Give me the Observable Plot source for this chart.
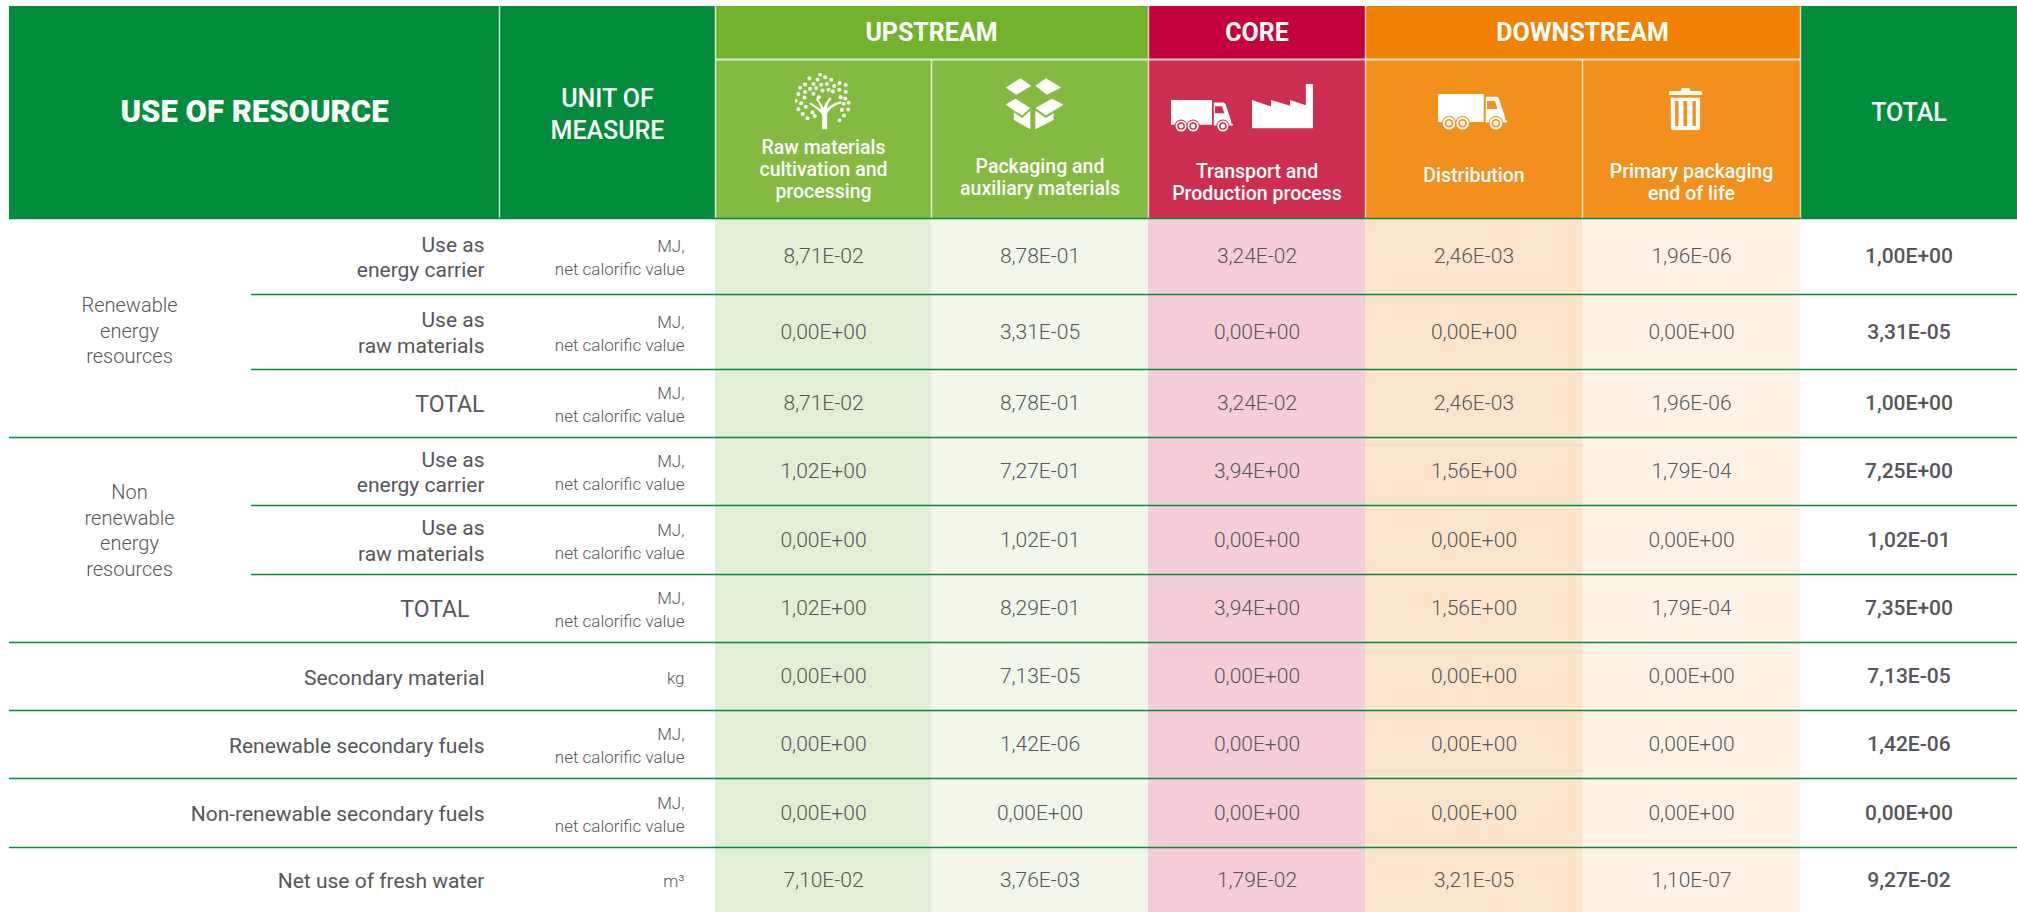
<!doctype html><html><head><meta charset="utf-8">
<style>html,body{margin:0;padding:0;background:#fff}svg{display:block}</style>
<script src="https://cdn.jsdelivr.net/npm/d3@7"></script>
<script src="https://cdn.jsdelivr.net/npm/@observablehq/plot@0.6"></script>
</head><body><script>
const stages = ["UPSTREAM","CORE","DOWNSTREAM"];
const phases = ["Raw materials\ncultivation and\nprocessing","Packaging and\nauxiliary materials","Transport and\nProduction process","Distribution","Primary packaging\nend of life"];
const groups = ["Renewable\nenergy\nresources","Non\nrenewable\nenergy\nresources"];
const rowLabels = ["Use as\nenergy carrier","Use as\nraw materials","TOTAL","Use as\nenergy carrier","Use as\nraw materials","TOTAL","Secondary material","Renewable secondary fuels","Non-renewable secondary fuels","Net use of fresh water"];
const MJ = "MJ,\nnet calorific value";
const units = [MJ,MJ,MJ,MJ,MJ,MJ,"kg",MJ,MJ,"m³"];
const rawMaterials = ["8,71E-02","0,00E+00","8,71E-02","1,02E+00","0,00E+00","1,02E+00","0,00E+00","0,00E+00","0,00E+00","7,10E-02"];
const packaging = ["8,78E-01","3,31E-05","8,78E-01","7,27E-01","1,02E-01","8,29E-01","7,13E-05","1,42E-06","0,00E+00","3,76E-03"];
const production = ["3,24E-02","0,00E+00","3,24E-02","3,94E+00","0,00E+00","3,94E+00","0,00E+00","0,00E+00","0,00E+00","1,79E-02"];
const distribution = ["2,46E-03","0,00E+00","2,46E-03","1,56E+00","0,00E+00","1,56E+00","0,00E+00","0,00E+00","0,00E+00","3,21E-05"];
const endOfLife = ["1,96E-06","0,00E+00","1,96E-06","1,79E-04","0,00E+00","1,79E-04","0,00E+00","0,00E+00","0,00E+00","1,10E-07"];
const totals = ["1,00E+00","3,31E-05","1,00E+00","7,25E+00","1,02E-01","7,35E+00","7,13E-05","1,42E-06","0,00E+00","9,27E-02"];
const series = [rawMaterials,packaging,production,distribution,endOfLife];

// layout grid: column / row index to position
const colEdges = [9,251,499,715,931,1148,1365,1582,1800,2017];
const rowEdges = [6,59,218,294,369,437,505,574,642,710,778,847,912];
const X = d3.scaleLinear(d3.range(10),colEdges), Y = d3.scaleLinear(d3.range(13),rowEdges);
const FONT = "Roboto, sans-serif";
const G="#038c3b", TXT="#55565a";
const tints=["#e2eed5","#f1f6e9","#f4cdd9","#fde5cd","#fef2e6"];

const svg=(w,h,body)=>"data:image/svg+xml,"+encodeURIComponent(`<svg xmlns="http://www.w3.org/2000/svg" viewBox="0 0 ${w} ${h}" fill="#fff">${body}</svg>`);
const treeDots=[[180,45],[195,53],[148,56],[172,60],[213,60],[238,70],[256,76],[135,74],[160,73],[183,75],[200,73],[120,84],[150,87],[168,85],[187,92],[205,90],[222,78],[237,90],[256,96],[135,97],[115,103],[160,102],[218,95],[241,112],[255,116],[107,123],[133,113],[176,112],[123,130],[265,129],[250,132],[137,141],[115,148],[245,150],[264,149],[128,162],[157,157],[251,167],[142,175],[164,168],[238,181]];
const tree=svg(170,170,treeDots.map(([x,y])=>`<circle cx="${x-105}" cy="${y-40}" r="6"/>`).join("")+
 `<path d="M81 168V128C80 118 66 108 42 92L46 88C60 96 72 104 78 110C76 98 70 88 62 78L67 75C74 84 80 94 85 104C90 90 96 82 104 72L109 76C100 88 96 96 95 106C106 94 120 88 136 84L138 90C122 96 108 102 100 114C96 120 96 124 96 128V168Z"/>`);
const box=svg(175,160,`<path d="M0 30L45 2L78 25L33 52Z"/><path d="M90 25L122 2L168 30L125 52Z"/><path d="M0 82L30 64L75 92L50 115Z"/><path d="M90 92L140 64L175 82L122 115L90 92Z"/><path d="M25 106L50 122L75 100V156L25 128Z"/><path d="M90 100L122 122L145 108V128L90 156Z"/>`);
const truckSvg=bg=>svg(212,112,`<path d="M5 0H135Q140 0 140 5V86H0V5Q0 0 5 0Z"/><path fill-rule="evenodd" d="M146 10H178Q184 10 186 16L204 70L206 82H211V88H146ZM150 23V47H182L174 23Z"/>`+
 [35,76,177].map(c=>`<circle cx="${c}" cy="90" r="22" fill="${bg}"/><circle cx="${c}" cy="90" r="19"/><circle cx="${c}" cy="90" r="13" fill="${bg}"/><circle cx="${c}" cy="90" r="8"/>`).join(""));
const factory=svg(186,137,`<path d="M0 50L58 70V50L116 68V50L164 66V0H186V137H0Z"/>`);
const trash=svg(102,128,`<path d="M38 5Q38 0 50 0Q64 0 64 5V10H95Q102 11 102 17V22H0V17Q0 11 7 10H38Z"/><path fill-rule="evenodd" d="M7 30H95V118Q95 128 85 128H17Q7 128 7 118ZM20 40V115H30V40ZM45 40V115H56V40ZM72 40V115H82V40Z"/>`);
const icons=[[tree,823,101,57,57],[box,1034,103.5,58,53],[truckSvg("#cd2e4f"),1201.5,115.5,63,33],[factory,1282,105.5,62,45],[truckSvg("#f3901d"),1472,111.5,70,37],[trash,1685,108.5,34,43]];

const R=(a,f)=>Plot.rect(a,{x1:d=>X(d[0]),x2:d=>X(d[1]),y1:d=>Y(d[2]),y2:d=>Y(d[3]),fill:d=>d[4],...f});
const tx=(data,o)=>Plot.text(data,{fontFamily:FONT,fill:TXT,lineAnchor:"middle",...o});
const chart=Plot.plot({width:2017,height:912,margin:0,
 x:{domain:[0,2017],range:[0,2017],axis:null},
 y:{domain:[0,912],range:[0,912],axis:null},
 marks:[
  R([[3,4,2,12,tints[0]],[4,5,2,12,tints[1]],[5,6,2,12,tints[2]],[6,7,2,12,tints[3]],[7,8,2,12,tints[4]]]),
  R([[0,3,0,2,G],[8,9,0,2,G],[3,4,1,2,"#85ba42"],[4,5,1,2,"#85ba42"],[5,6,1,2,"#cd2e4f"],[6,7,1,2,"#f3901d"],[7,8,1,2,"#f3901d"]]),
  R([[3,5,0,1,"#72b22d"],[5,6,0,1,"#c4033c"],[6,8,0,1,"#f18100"]]),
  Plot.ruleX([2,3,5,6,8],{x:d=>X(d),y1:()=>Y(0),y2:()=>Y(2),stroke:"#fff",strokeOpacity:.75,strokeWidth:1.5}),
  Plot.ruleX([4,7],{x:d=>X(d),y1:()=>Y(1),y2:()=>Y(2),stroke:"#fff",strokeOpacity:.75,strokeWidth:1.5}),
  Plot.ruleY([1],{y:d=>Y(d),x1:()=>X(3),x2:()=>X(8),stroke:"#fff",strokeOpacity:.75,strokeWidth:2}),
  Plot.ruleY([2,5,8,9,10,11],{y:d=>Y(d),x1:()=>X(0),x2:()=>X(9),stroke:G,strokeWidth:1.3}),
  Plot.ruleY([3,4,6,7],{y:d=>Y(d),x1:()=>X(1),x2:()=>X(9),stroke:G,strokeWidth:1.3}),
  Plot.image(icons,{src:d=>d[0],x:d=>d[1],y:d=>d[2],width:d=>d[3],height:d=>d[4]}),
  tx(["USE OF RESOURCE"],{x:()=>254,y:()=>112,fill:"#fff",fontWeight:900,fontSize:31,letterSpacing:1.5}),
  tx(["UNIT OF\nMEASURE"],{x:()=>607,y:()=>112,fill:"#fff",fontWeight:500,fontSize:25,lineHeight:1.28}),
  tx(["TOTAL"],{x:()=>X(8.5),y:()=>112,fill:"#fff",fontWeight:500,fontSize:25}),
  tx(stages,{x:(d,i)=>X([4,5.5,7][i]),y:()=>32,fill:"#fff",fontWeight:700,fontSize:25}),
  tx(phases,{x:(d,i)=>X(3.5+i),y:(d,i)=>[168,176,181,174,181][i],fill:"#fff",fontWeight:500,fontSize:19.5,lineHeight:1.13}),
  tx(groups,{x:()=>129,y:(d,i)=>[329,529][i],fontWeight:300,fontSize:20,lineHeight:1.28}),
  tx(rowLabels,{x:(d,i)=>i===5?469:484,y:(d,i)=>Y(2.5+i),textAnchor:"end",fontWeight:d=>d==="TOTAL"?700:300,fontSize:d=>d==="TOTAL"?23:21,lineHeight:1.2}),
  tx(units,{x:()=>684,y:(d,i)=>Y(2.5+i),textAnchor:"end",fontWeight:300,fontSize:17,lineHeight:1.35}),
  ...series.map((s,c)=>tx(s,{x:()=>X(3.5+c),y:(d,i)=>Y(2.5+i),fontWeight:300,fontSize:21})),
  tx(totals,{x:()=>X(8.5),y:(d,i)=>Y(2.5+i),fontWeight:500,fontSize:21})
 ]});
document.body.append(chart);
</script></body></html>
